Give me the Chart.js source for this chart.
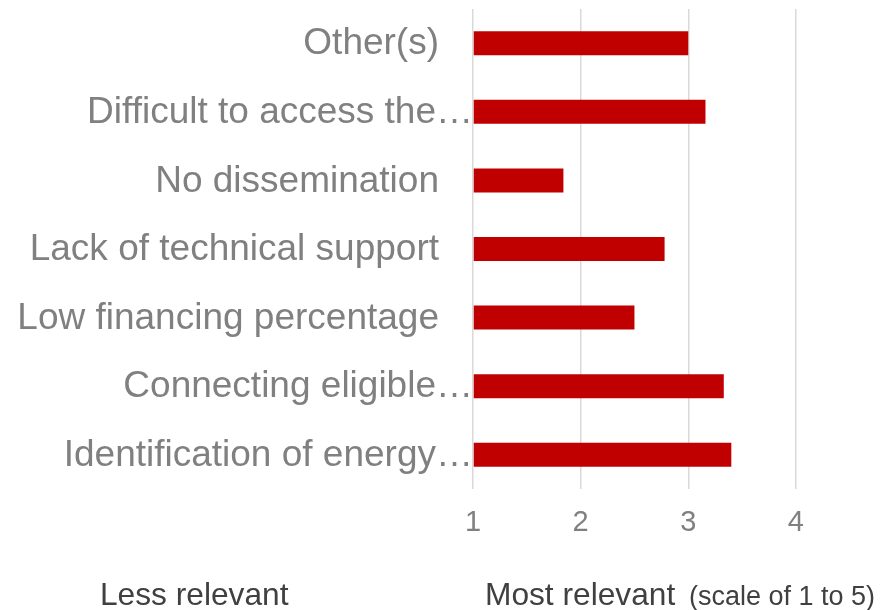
<!DOCTYPE html>
<html>
<head>
<meta charset="utf-8">
<script src="https://cdn.jsdelivr.net/npm/chart.js@4.4.1/dist/chart.umd.min.js"></script>
<style>
    html, body { margin: 0; padding: 0; background: #ffffff; }
    #wrap { width: 890px; height: 610px; }
</style>
</head>
<body>
<div id="wrap"><canvas id="barChart" width="890" height="610"></canvas></div>
<script>
// Chart data
const categories = [
    'Other(s)',
    'Difficult to access the…',
    'No dissemination',
    'Lack of technical support',
    'Low financing percentage',
    'Connecting eligible…',
    'Identification of energy…'
];
const relevance = [3.0, 3.16, 1.84, 2.78, 2.50, 3.33, 3.40];
const xTicks = [1, 2, 3, 4];
const lowLabel = 'Less relevant';
const highLabel = 'Most relevant';
const scaleNote = '(scale of 1 to 5)';

const FONT = '"Liberation Sans", Arial, sans-serif';

// Draws the category labels (truncated ones sit right on the axis, like the original)
// and the two captions under the axis
const labelPlugin = {
    id: 'labelPlugin',
    afterDraw(chart) {
        const ctx = chart.ctx;
        const yScale = chart.scales.y;
        const left = chart.chartArea.left;
        ctx.save();
        ctx.font = '37px ' + FONT;
        ctx.fillStyle = '#808080';
        ctx.textAlign = 'right';
        ctx.textBaseline = 'middle';
        categories.forEach(function(label, i) {
            const y = yScale.getPixelForTick(i);
            const x = label.endsWith('…') ? left : left - 34;
            ctx.fillText(label, x, y + 1);
        });

        ctx.textAlign = 'left';
        ctx.textBaseline = 'alphabetic';
        ctx.fillStyle = '#404040';
        ctx.font = '31.7px ' + FONT;
        ctx.fillText(lowLabel, 100, 605);
        ctx.fillText(highLabel, 485, 605);
        ctx.font = '27px ' + FONT;
        ctx.fillText(scaleNote, 689, 605);
        ctx.restore();
    }
};

const ctx = document.getElementById('barChart').getContext('2d');

var myChart = new Chart(ctx, {
    type: 'bar',
    data: {
        labels: categories,
        datasets: [{
            data: relevance,
            base: 1,
            backgroundColor: '#C00000',
            borderWidth: 0,
            categoryPercentage: 1,
            barPercentage: 0.35
        }]
    },
    plugins: [labelPlugin],
    options: {
        indexAxis: 'y',
        responsive: false,
        animation: false,
        layout: { padding: { top: 9, right: 8, left: 0, bottom: 0 } },
        plugins: {
            legend: { display: false },
            tooltip: { enabled: false }
        },
        scales: {
            x: {
                min: 1,
                max: 4.8,
                afterBuildTicks: function(scale) {
                    scale.ticks = xTicks.map(v => ({ value: v }));
                },
                afterFit: function(scale) {
                    scale.height = 121;
                },
                grid: {
                    color: '#d9d9d9',
                    lineWidth: 1.5,
                    drawTicks: false
                },
                border: { display: false },
                ticks: {
                    font: { family: FONT, size: 29 },
                    color: '#808080',
                    padding: 17,
                    includeBounds: false
                }
            },
            y: {
                afterFit: function(scale) {
                    scale.width = 473;
                },
                grid: { display: false },
                border: { display: false },
                ticks: { display: false }
            }
        }
    }
});
</script>
</body>
</html>
